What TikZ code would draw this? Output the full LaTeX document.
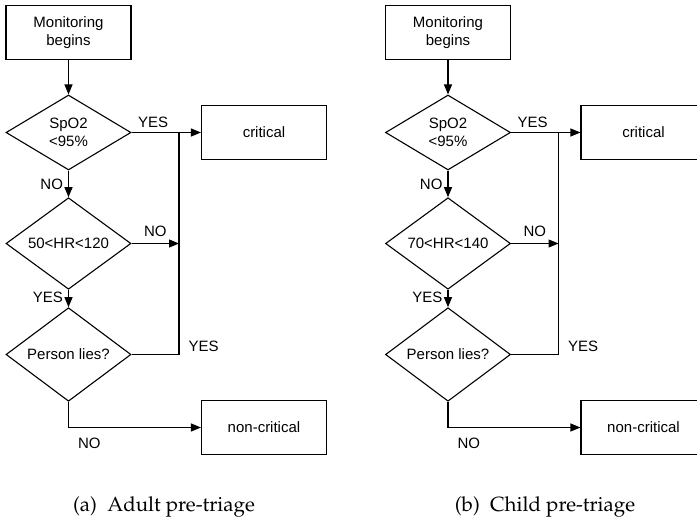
\documentclass[tikz,border=0pt]{standalone}
\usepackage[T1]{fontenc}
\usepackage{fontspec}
\newfontfamily\flowfont{Liberation Sans}
\newcommand\capfont{\fontencoding{T1}\fontfamily{ppl}\selectfont}
\usetikzlibrary{shapes.geometric,positioning,arrows.meta}

\begin{document}
\begin{tikzpicture}[-,>={Triangle[length=10pt,width=8pt]},x=1pt,y=-1pt,line width=1.1pt,node distance=111pt,
    box/.style={rectangle,draw,minimum width=125pt,minimum height=54pt,align=center,font=\flowfont\fontsize{15}{18}\selectfont},
    test/.style={diamond,draw,minimum width=125pt,minimum height=75pt,inner sep=0pt,align=center,font=\flowfont\fontsize{15}{18}\selectfont},
    lbl/.style={inner sep=1pt,font=\flowfont\fontsize{15}{18}\selectfont},
    subcap/.style={anchor=base,font=\capfont\fontsize{20.5}{24}\selectfont}]

    \useasboundingbox (0,0) rectangle (697,522);

    % adult
    \node[box] (a1) at (68.5,32.5) {Monitoring\\begins};
    \node[test] (a2) [below of = a1, node distance=100pt] {SpO2\\<95\%};
    \node[test] (a3) [below of = a2] {50<HR<120};
    \node[test] (a4) [below of = a3] {Person lies?};
    \node[box] (a5) [right of = a2, node distance=195.5pt] {critical};
    \node[box] (a6) [below of = a5, node distance=295pt] {non-critical};
    \coordinate[right of = a2, node distance=110.5pt] (aj);
    \node[subcap] (acap) at (164,511.5) {(a)\enspace Adult pre-triage};

    \draw[->] (a1) to (a2);
    \draw[->] (a2) -- node[lbl, above=3pt, pos=0.31]{YES} (a5);
    \draw[->] (a2) -- node[lbl, left=4pt]{NO} (a3);
    \draw[->] (a3) -- node[lbl, above=5pt]{NO} (a3.east -| aj);
    \draw[->] (a3) -- node[lbl, left=4pt, pos=0.45]{YES} (a4);
    \draw (a4) -| node[lbl, pos=0.5, above right=1pt and 8pt]{YES} (aj);
    \draw[->] (a4) |- node[lbl, pos=0.5, below right=9pt and 8pt]{NO} (a6);

    % child
    \node[box] (b1) at (448,32.5) {Monitoring\\begins};
    \node[test] (b2) [below of = b1, node distance=100pt] {SpO2\\<95\%};
    \node[test] (b3) [below of = b2] {70<HR<140};
    \node[test] (b4) [below of = b3] {Person lies?};
    \node[box] (b5) [right of = b2, node distance=195.5pt] {critical};
    \node[box] (b6) [below of = b5, node distance=295pt] {non-critical};
    \coordinate[right of = b2, node distance=110.5pt] (bj);
    \node[subcap] (bcap) at (545,511.5) {(b)\enspace Child pre-triage};

    \draw[->] (b1) to (b2);
    \draw[->] (b2) -- node[lbl, above=3pt, pos=0.31]{YES} (b5);
    \draw[->] (b2) -- node[lbl, left=4pt]{NO} (b3);
    \draw[->] (b3) -- node[lbl, above=5pt]{NO} (b3.east -| bj);
    \draw[->] (b3) -- node[lbl, left=4pt, pos=0.45]{YES} (b4);
    \draw (b4) -| node[lbl, pos=0.5, above right=1pt and 8pt]{YES} (bj);
    \draw[->] (b4) |- node[lbl, pos=0.5, below right=9pt and 8pt]{NO} (b6);
\end{tikzpicture}
\end{document}
